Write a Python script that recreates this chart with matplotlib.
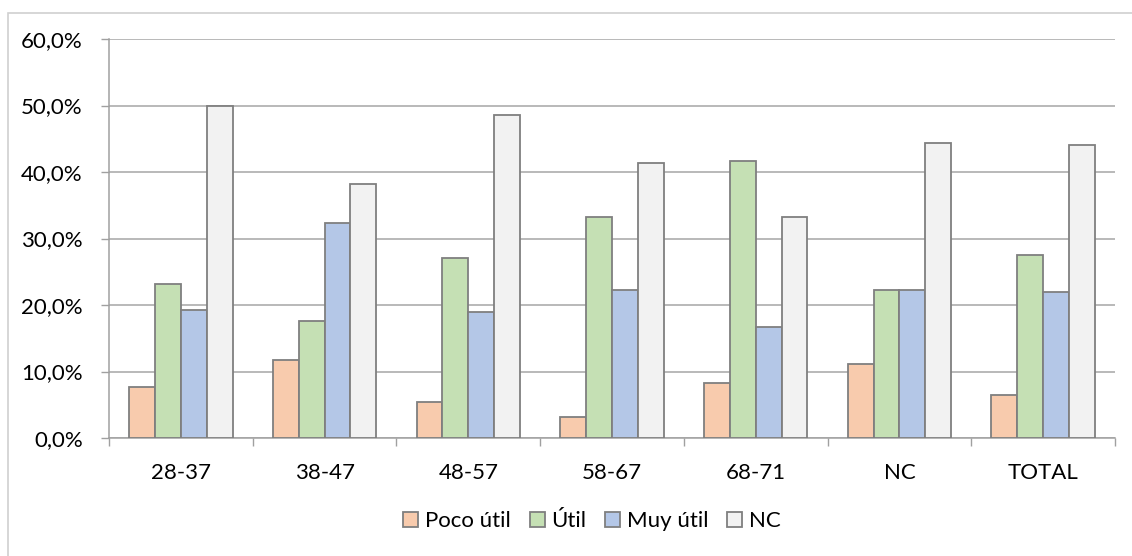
import matplotlib
matplotlib.use("Agg")
import matplotlib.pyplot as plt
import numpy as np
from matplotlib.patches import Rectangle
from matplotlib.ticker import FuncFormatter

categories = ["28-37", "38-47", "48-57", "58-67", "68-71", "NC", "TOTAL"]
series_names = ["Poco útil", "Útil", "Muy útil", "NC"]
poco_util = [7.7, 11.8, 5.4, 3.2, 8.3, 11.1, 6.4]
util = [23.1, 17.6, 27.0, 33.3, 41.7, 22.2, 27.5]
muy_util = [19.2, 32.4, 18.9, 22.2, 16.7, 22.2, 22.0]
nc = [50.0, 38.2, 48.6, 41.3, 33.3, 44.4, 44.0]
colors = ["#F8CBAD", "#C5E0B4", "#B4C7E7", "#F2F2F2"]

plt.rcParams['font.family'] = ['Lato', 'DejaVu Sans']

W, H = 1132, 556
fs = 16
fig = plt.figure(figsize=(W / 100, H / 100), dpi=100)
ax = fig.add_axes([109 / W, 1 - 438 / H, (1115 - 109) / W, (438 - 39) / H])

x = np.arange(len(categories))
bw = 0.18
data = [poco_util, util, muy_util, nc]
for i, (vals, name, c) in enumerate(zip(data, series_names, colors)):
    ax.bar(x + (i - 1.5) * bw, vals, bw, color=c, edgecolor="#7F7F7F",
           linewidth=1.3, label=name, zorder=3)

ax.set_xlim(-0.5, len(categories) - 0.5)
ax.set_ylim(0, 60)
ax.set_yticks(np.arange(0, 61, 10))
ax.yaxis.set_major_formatter(FuncFormatter(lambda v, p: f"{v:.1f}%".replace(".", ",")))
ax.set_xticks(np.arange(-0.5, len(categories), 1), minor=False)
ax.set_xticklabels([])
ax.set_xticks(x, minor=True)
ax.set_xticklabels(categories, minor=True)
ax.tick_params(axis="x", which="minor", length=0, pad=18, labelsize=fs, colors="black")
ax.tick_params(axis="x", which="major", length=5.8, color="#A0A0A0", width=1)
ax.tick_params(axis="y", length=5.8, color="#A0A0A0", width=1, labelsize=fs, pad=13)
ax.grid(axis="y", color="#A6A6A6", linewidth=1.1, zorder=0)
for s in ["top", "right"]:
    ax.spines[s].set_visible(False)
for s in ["left", "bottom"]:
    ax.spines[s].set_color("#A0A0A0")
    ax.spines[s].set_linewidth(1.1)

leg = fig.legend(loc="center", bbox_to_anchor=(592 / W, 1 - 521 / H), ncol=4, frameon=False,
                 fontsize=fs, handlelength=0.68, handleheight=0.68, handletextpad=0.3,
                 columnspacing=0.85, borderpad=0)

fig.patches.append(Rectangle((8 / W, -0.05), 1.2, 1 - 13 / H + 0.05,
                             transform=fig.transFigure, fill=False,
                             edgecolor="#D0D0D0", linewidth=1.2))
fig.savefig("out.png", dpi=100)
